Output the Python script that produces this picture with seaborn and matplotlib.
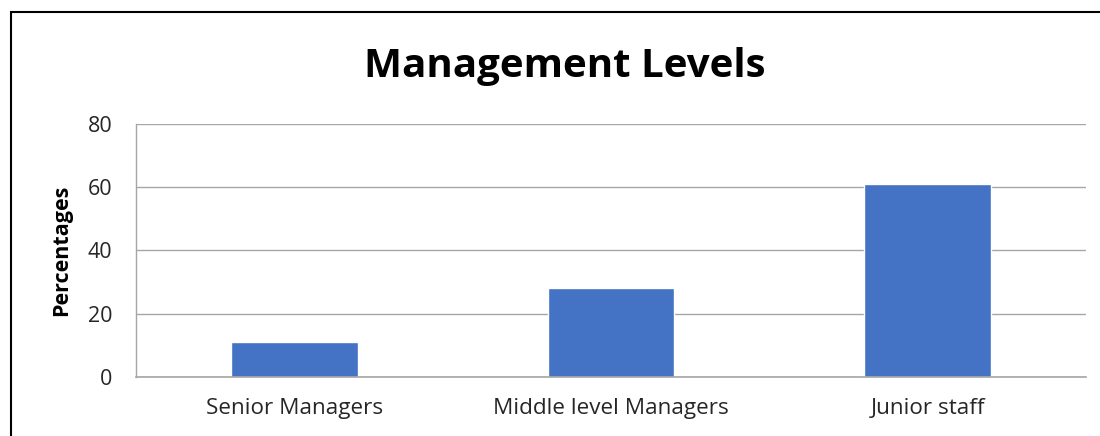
import matplotlib
matplotlib.use("Agg")
import matplotlib.pyplot as plt
import seaborn as sns
import pandas as pd
from matplotlib.patches import Rectangle

categories = ["Senior Managers", "Middle level Managers", "Junior staff"]
values = [11, 28, 61]
yticks = [0, 20, 40, 60, 80]

sns.set_theme(style="white")
plt.rcParams['font.family'] = ['Open Sans', 'DejaVu Sans']

df = pd.DataFrame({"cat": categories, "val": values})

fig = plt.figure(figsize=(11, 4.36), dpi=100)
ax = fig.add_axes([136/1100, 1-377/436, (1086-136)/1100, (377-124)/436])

sns.barplot(data=df, x="cat", y="val", color="#4472C4", width=0.4, ax=ax, saturation=1)
ax.set_ylim(0, 80)
ax.set_yticks(yticks)
ax.set_xlim(-0.5, 2.5)
ax.yaxis.grid(True, color="#A6A6A6", linewidth=1)
ax.set_axisbelow(True)
for s in ["top", "right"]:
    ax.spines[s].set_visible(False)
ax.spines["left"].set_color("#A6A6A6")
ax.spines["bottom"].set_color("#A6A6A6")
ax.spines["left"].set_linewidth(1)
ax.spines["bottom"].set_linewidth(1.2)
ax.tick_params(axis="x", length=0, labelsize=16.2, colors="#262626", pad=15)
ax.tick_params(axis="y", length=0, labelsize=15.5, colors="#262626", pad=17)
ax.set_xlabel("")
ax.set_ylabel("Percentages", fontsize=15.5, fontweight="bold", color="black")
ax.yaxis.set_label_coords(-0.067, 0.5)

fig.text(0.513, 1-66/436, "Management Levels", ha="center", va="center",
         fontsize=29, fontweight="bold", color="black")

fig.patches.append(Rectangle((11/1100, -0.1), 1.2, 1-12/436+0.1, transform=fig.transFigure,
                             fill=False, edgecolor="black", linewidth=1.5))

fig.savefig("out.png", dpi=100)
